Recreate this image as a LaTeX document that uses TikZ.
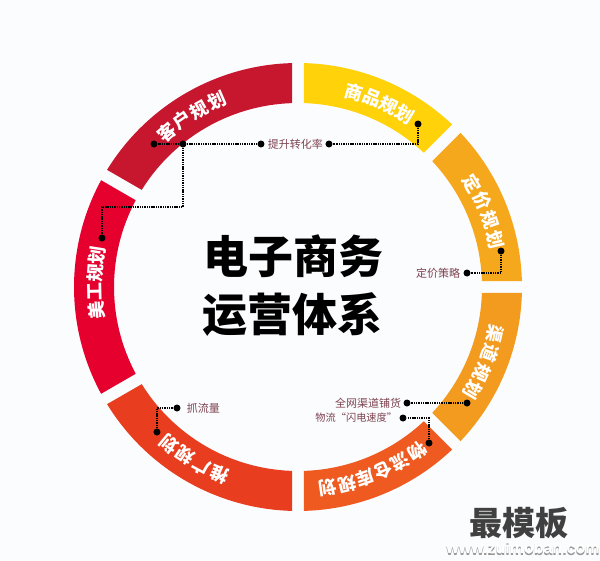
\documentclass[tikz,border=0pt]{standalone}
\usepackage{fontspec}
\usepackage{xcolor}
\setmainfont{Liberation Sans}
\newfontfamily\cjk{Noto Sans CJK SC}
\definecolor{paper}{HTML}{FBFCFE}
\definecolor{notecol}{HTML}{7D4350}
\definecolor{shopyellow}{HTML}{FFD20A}
\definecolor{priceorange}{HTML}{F6A81C}
\definecolor{channelorange}{HTML}{F39B1F}
\definecolor{stockorange}{HTML}{EE5A20}
\definecolor{promored}{HTML}{E83D1E}
\definecolor{artred}{HTML}{E5002D}
\definecolor{custred}{HTML}{C7172F}
\usetikzlibrary{positioning}

\begin{document}
\begin{tikzpicture}
[x=1pt, y=1pt,
 ringtext/.style={text=white, font=\cjk\bfseries\fontsize{18}{18}\selectfont, inner sep=0pt},
 dotmark/.style={circle, fill=black, inner sep=0pt, minimum size=7pt},
 dotline/.style={black, line width=1.8pt, dash pattern=on 1.4pt off 0.9pt},
 notetext/.style={text=notecol, font=\cjk\fontsize{11}{11}\selectfont, inner sep=0pt},
 titletext/.style={text=black, font=\cjk\bfseries\fontsize{45}{45}\selectfont, inner sep=0pt},
 sitetext/.style={font=\bfseries\fontsize{16}{16}\selectfont, inner sep=0pt},
]

% origin is the centre of the ring
\fill[paper] (-298,-273) rectangle (302,287);
\useasboundingbox (-298,-273) rectangle (302,287);

\foreach \from/\to/\col in {90/45/shopyellow, 45/0/priceorange, 0/-45/channelorange,
  -45/-90/stockorange, -90/-150/promored, -150/-210/artred, -210/-270/custred}
  \fill[\col] (\from-1.53:224) arc (\from-1.53:\to+1.53:224)
    -- (\to+1.87:184) arc (\to+1.87:\from-1.87:184) -- cycle;

% ring words
\foreach \ch/\ang [count=\i] in {商/74, 品/68.5, 规/63.5, 划/58.4}
  \node[ringtext, rotate=\ang-90] (goods\i) at (\ang:203) {\ch};
\foreach \ch/\ang [count=\i] in {定/30.7, 价/25, 规/19.3, 划/13.6}
  \node[ringtext, rotate=\ang-90] (price\i) at (\ang:203) {\ch};
\foreach \ch/\ang [count=\i] in {渠/-13.4, 道/-19, 规/-24.8, 划/-30.5}
  \node[ringtext, rotate=\ang-90] (channel\i) at (\ang:203) {\ch};
\foreach \ch/\ang [count=\i] in {物/-54.1, 流/-59.6, 仓/-65, 库/-70.5, 规/-76, 划/-81.5}
  \node[ringtext, rotate=\ang-90] (stock\i) at (\ang:203) {\ch};
\foreach \ch/\ang [count=\i] in {推/-112.8, 广/-118.3, 规/-123.9, 划/-129.4}
  \node[ringtext, rotate=\ang-90] (promo\i) at (\ang:203) {\ch};
\foreach \ch/\ang [count=\i] in {美/186.6, 工/181.3, 规/176, 划/171}
  \node[ringtext, rotate=\ang-90] (art\i) at (\ang:203) {\ch};
\foreach \ch/\ang [count=\i] in {客/130.2, 户/124.7, 规/119.2, 划/113.6}
  \node[ringtext, rotate=\ang-90] (cust\i) at (\ang:203) {\ch};

% centre title
\node[titletext] (title1) at (-4.5,31) {电子商务};
\node[titletext] (title2) at (-5.5,-28) {运营体系};

% dots
\node[dotmark] (goodsdot)   at (120,163) {};
\node[dotmark] (rateright)  at (31,143) {};
\node[dotmark] (rateleft)   at (-37,143) {};
\node[dotmark] (custjoin)   at (-115,143) {};
\node[dotmark] (custdot)    at (-144,143) {};
\node[dotmark] (artdot)     at (-196,49) {};
\node[dotmark] (pricedot)   at (203,36) {};
\node[dotmark] (priceend)   at (169,14) {};
\node[dotmark] (channeldot) at (169,-116) {};
\node[dotmark] (channelend) at (109,-116) {};
\node[dotmark] (stockdot)   at (131,-156) {};
\node[dotmark] (stockend)   at (105,-131) {};
\node[dotmark] (promodot)   at (-141,-145) {};
\node[dotmark] (promoend)   at (-121,-121) {};
\coordinate (artbend) at (-196,80);

% notes
\node[notetext, right=3pt of rateleft]  (rate)    {提升转化率};
\node[notetext, left=3pt of priceend]   (policy)  {定价策略};
\node[notetext, left=2pt of channelend] (network) {全网渠道铺货};
\node[notetext, left=2pt of stockend, font=\cjk\fontsize{10.2}{10.2}\selectfont] (flash) {物流“闪电速度”};
\node[notetext, right=6pt of promoend]  (traffic) {抓流量};

% connectors
\draw[dotline] (goodsdot) |- (rateright);
\draw[dotline] (rateleft) -- (custdot);
\draw[dotline] (custjoin) |- (artbend) -- (artdot);
\draw[dotline] (pricedot) |- (priceend);
\draw[dotline] (channeldot) -- (channelend);
\draw[dotline] (stockdot) |- (stockend);
\draw[dotline] (promodot) |- (promoend);

% site mark
\node[text=black!75, font=\cjk\bfseries\fontsize{33}{33}\selectfont, inner sep=0pt] (mark) at (221,-236) {最模板};
\node[sitetext, text=black!40] (siteshade) at (225,-262.5) {www.zuimoban.com};
\node[sitetext, text=white] (site) at (225,-261) {www.zuimoban.com};
\end{tikzpicture}
\end{document}
